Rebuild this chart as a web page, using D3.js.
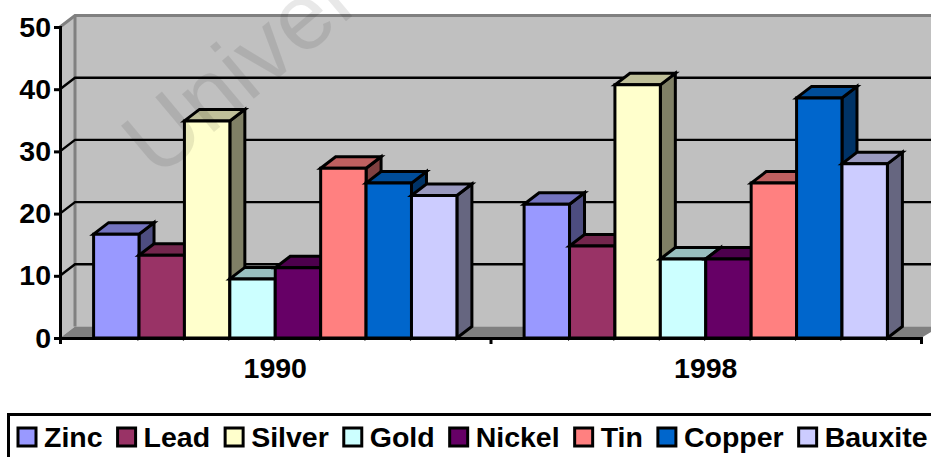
<!doctype html>
<html>
<head>
<meta charset="utf-8"/>
<title>Metals 3D columns</title>
<script src="https://cdnjs.cloudflare.com/ajax/libs/d3/7.8.5/d3.min.js"></script>
<style>
	body { margin: 0; background: #fff; }
	svg { display: block; }
	text { font-family: "Liberation Sans", Arial, sans-serif; font-weight: bold; fill: #000; }
</style>
</head>
<body>
<svg width="931" height="457"></svg>
<script>
var years = ["1990", "1998"];
var metals = ["Zinc", "Lead", "Silver", "Gold", "Nickel", "Tin", "Copper", "Bauxite"];
var values1990 = [16.7, 13.3, 34.9, 9.5, 11.3, 27.3, 24.9, 22.9];
var values1998 = [21.5, 14.8, 40.7, 12.7, 12.7, 24.9, 38.6, 28];
var yTicks = [0, 10, 20, 30, 40, 50];
var colors = ["#9999ff", "#993366", "#ffffcc", "#ccffff", "#660066", "#ff8080", "#0066cc", "#ccccff"];

var svg = d3.select("svg");
var left = 60, right = 921, top_ = 27, bottom = 338;
var dx = 15, dy = -11.5;
var lw = 3;
var fontSize = "28.5px";

var yScale = d3.scaleLinear().domain([0, 50]).range([bottom, top_]);
var xGroup = d3.scaleBand().domain(years).range([left, right]);
var xBar = d3.scaleBand().domain(metals).range([0, xGroup.bandwidth()]).paddingOuter(0.74);
var xEdge = d3.scaleLinear().domain([0, years.length]).range([left, right]);

// walls
svg.append("path")
	.attr("d", d3.line()([[left, bottom], [left, top_], [left + dx, top_ + dy], [left + dx, bottom + dy]]))
	.attr("fill", "#c0c0c0");
svg.append("rect")
	.attr("x", left + dx).attr("y", top_ + dy)
	.attr("width", 931 - left - dx).attr("height", bottom - top_)
	.attr("fill", "#c0c0c0");

// floor
svg.append("path")
	.attr("d", d3.line()([[left, bottom], [left + dx, bottom + dy], [940, bottom + dy], [right, bottom]]))
	.attr("fill", "#808080");

// wall edges
svg.append("path")
	.attr("d", d3.line()([[left, top_], [left + dx, top_ + dy], [931, top_ + dy]]))
	.attr("fill", "none").attr("stroke", "#808080").attr("stroke-width", lw);
svg.append("path")
	.attr("d", d3.line()([[left + dx, top_ + dy], [left + dx, bottom + dy]]))
	.attr("fill", "none").attr("stroke", "#808080").attr("stroke-width", lw);

// gridlines
yTicks.filter(function (d) { return d > 0 && d < 50; }).forEach(function (d) {
	svg.append("path")
		.attr("d", d3.line()([[left, yScale(d)], [left + dx, yScale(d) + dy], [931, yScale(d) + dy]]))
		.attr("fill", "none").attr("stroke", "#000").attr("stroke-width", 2.4);
});

// bars
function drawBars(year, vals) {
	var g = svg.append("g").attr("transform", "translate(" + xGroup(year) + ",0)");
	var bw = xBar.bandwidth();
	metals.forEach(function (m, i) {
		var x0 = xBar(m), x1 = x0 + bw, y0 = yScale(vals[i]);
		var c = d3.color(colors[i]);
		var face = function (pts, fill) {
			g.append("path")
				.attr("d", d3.line()(pts) + "Z")
				.attr("fill", fill)
				.attr("stroke", "#000").attr("stroke-width", lw)
				.attr("stroke-linejoin", "miter");
		};
		var shade = function (k) {
			return d3.rgb(c.r * k, c.g * k, c.b * k).formatHex();
		};
		face([[x1, bottom], [x1, y0], [x1 + dx, y0 + dy], [x1 + dx, bottom + dy]], shade(0.5));
		face([[x0, y0], [x0 + dx, y0 + dy], [x1 + dx, y0 + dy], [x1, y0]], shade(0.75));
		face([[x0, bottom], [x0, y0], [x1, y0], [x1, bottom]], colors[i]);
	});
}
drawBars(years[0], values1990);
drawBars(years[1], values1998);

// axes
var yAxis = d3.axisLeft(yScale).tickValues(yTicks).tickSize(6).tickPadding(3).tickFormat(d3.format("d"));
var yG = svg.append("g").attr("transform", "translate(" + left + ",0)").call(yAxis);
yG.selectAll("text").style("font-size", fontSize);

var xAxis = d3.axisBottom(xEdge).tickValues(d3.range(years.length + 1)).tickSize(6).tickFormat("");
svg.append("g").attr("transform", "translate(0," + bottom + ")").call(xAxis);

svg.selectAll(".domain").attr("stroke", "#000").attr("stroke-width", lw);
svg.selectAll(".tick line").attr("stroke", "#000").attr("stroke-width", lw);

svg.selectAll(".yearLabel").data(years).enter().append("text")
	.attr("class", "yearLabel")
	.attr("x", function (d) { return xGroup(d) + xGroup.bandwidth() / 2; })
	.attr("y", 378)
	.attr("text-anchor", "middle")
	.style("font-size", fontSize)
	.text(function (d) { return d; });

// legend
svg.append("path")
	.attr("d", d3.line()([[8.5, 470], [8.5, 414.5], [940, 414.5]]))
	.attr("fill", "none").attr("stroke", "#000").attr("stroke-width", lw);

var lx = 18;
metals.forEach(function (m, i) {
	svg.append("rect")
		.attr("x", lx).attr("y", 428)
		.attr("width", 18).attr("height", 18)
		.attr("fill", colors[i])
		.attr("stroke", "#000").attr("stroke-width", lw);
	var t = svg.append("text")
		.attr("x", lx + 26).attr("y", 447)
		.style("font-size", fontSize)
		.text(m);
	lx += 26 + t.node().getComputedTextLength() + 15;
});

// watermark
svg.append("text")
	.attr("transform", "translate(157,180) rotate(-40)")
	.style("font-size", "94px")
	.style("font-weight", "normal")
	.style("fill", "#000")
	.style("fill-opacity", 0.09)
	.text("University");
</script>
</body>
</html>
